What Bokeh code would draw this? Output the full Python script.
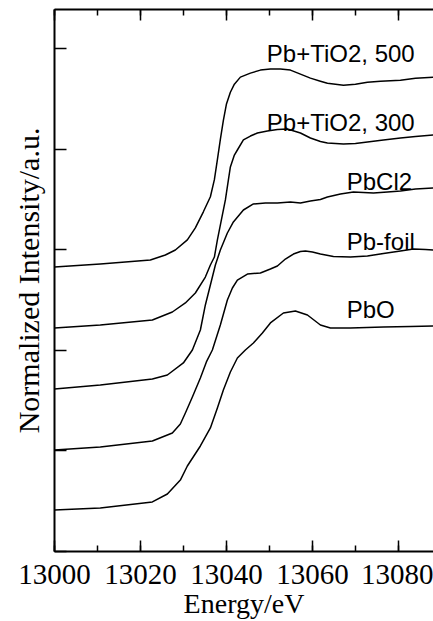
from bokeh.plotting import figure
from bokeh.models import (LinearAxis, SingleIntervalTicker, CustomJSTickFormatter,
                          Range1d, NumeralTickFormatter, ColumnDataSource)
from bokeh.embed import file_html
from bokeh.resources import INLINE
from bokeh.core.properties import value

# ---------------- data ----------------
# Pb+TiO2, 500
e_500 = [13000.00, 13010.66, 13022.30, 13025.79, 13028.12, 13030.91, 13032.77, 13034.64,
         13036.27, 13037.20, 13037.90, 13038.59, 13039.29, 13039.99, 13040.92, 13041.85,
         13043.25, 13045.58, 13047.91, 13050.23, 13052.56, 13054.89, 13057.22, 13059.54,
         13061.87, 13063.50, 13067.23, 13070.02, 13072.81, 13075.84, 13080.49, 13083.99, 13088.18]
y_500 = [2.83, 2.86, 2.90, 2.95, 3.00, 3.10, 3.22, 3.38,
         3.53, 3.70, 3.90, 4.10, 4.29, 4.45, 4.57, 4.65,
         4.72, 4.76, 4.79, 4.80, 4.80, 4.79, 4.75, 4.71,
         4.68, 4.66, 4.64, 4.65, 4.67, 4.68, 4.69, 4.71, 4.72]

# Pb+TiO2, 300
e_300 = [13000.00, 13010.66, 13022.77, 13027.42, 13030.45, 13032.77, 13035.10, 13036.27,
         13037.20, 13037.90, 13038.83, 13039.76, 13040.46, 13040.92, 13041.85, 13042.55,
         13043.95, 13045.58, 13047.21, 13049.53, 13051.86, 13054.19, 13057.22, 13059.54,
         13061.87, 13063.50, 13067.23, 13070.02, 13072.81, 13076.54, 13080.49, 13083.99, 13088.18]
y_300 = [2.224, 2.254, 2.303, 2.383, 2.473, 2.572, 2.731, 2.851,
         2.930, 3.100, 3.299, 3.498, 3.697, 3.826, 3.945, 3.995,
         4.095, 4.134, 4.164, 4.184, 4.199, 4.204, 4.164, 4.114,
         4.080, 4.065, 4.055, 4.060, 4.075, 4.095, 4.114, 4.129, 4.144]

# PbCl2
e_cl = [13000.00, 13010.66, 13022.77, 13026.26, 13029.98, 13032.08, 13033.94, 13035.10,
        13036.27, 13037.43, 13038.59, 13040.22, 13041.62, 13043.95, 13046.28, 13049.07,
        13051.86, 13054.89, 13057.22, 13059.54, 13061.87, 13063.50, 13066.53, 13069.55,
        13074.21, 13077.47, 13080.49, 13083.99, 13088.18]
y_cl = [1.617, 1.657, 1.716, 1.756, 1.876, 2.005, 2.204, 2.453,
        2.652, 2.851, 3.000, 3.169, 3.279, 3.398, 3.458, 3.468,
        3.468, 3.478, 3.468, 3.488, 3.502, 3.527, 3.557, 3.577,
        3.567, 3.577, 3.587, 3.607, 3.617]

# Pb-foil
e_foil = [13000.00, 13010.66, 13022.77, 13027.42, 13029.28, 13030.45, 13032.08, 13033.94,
          13035.34, 13036.73, 13038.59, 13040.22, 13041.39, 13042.55, 13044.88, 13047.91,
          13050.23, 13051.86, 13053.72, 13055.59, 13057.22, 13058.38, 13060.01, 13061.87,
          13064.90, 13068.85, 13072.81, 13076.54, 13080.49, 13083.52, 13086.31, 13088.18]
y_foil = [1.010, 1.040, 1.100, 1.179, 1.269, 1.378, 1.537, 1.726,
          1.886, 2.005, 2.254, 2.502, 2.622, 2.701, 2.761, 2.771,
          2.811, 2.841, 2.910, 2.960, 2.985, 2.990, 2.980, 2.960,
          2.935, 2.930, 2.940, 2.965, 2.990, 3.010, 3.005, 3.000]

# PbO
e_pbo = [13000.00, 13010.66, 13022.77, 13026.26, 13029.28, 13030.91, 13033.94, 13036.27,
         13037.90, 13039.29, 13040.92, 13042.55, 13044.41, 13046.28, 13048.37, 13050.23,
         13053.26, 13056.05, 13058.85, 13061.87, 13064.20, 13068.85, 13076.54, 13082.82, 13088.18]
y_pbo = [0.413, 0.433, 0.493, 0.572, 0.711, 0.851, 1.050, 1.229,
         1.428, 1.607, 1.786, 1.925, 2.005, 2.075, 2.174, 2.274,
         2.373, 2.393, 2.353, 2.254, 2.224, 2.224, 2.234, 2.239, 2.244]

label_text = ["Pb+TiO2, 500", "Pb+TiO2, 300", "PbCl2", "Pb-foil", "PbO"]
label_x = [13049.4, 13049.4, 13068.0, 13068.0, 13068.0]
label_y = [4.960, 4.264, 3.677, 3.083, 2.403]

SERIF = "Liberation Serif"
SANS = "Liberation Sans"

# ---------------- figure ----------------
p = figure(width=433, height=621, output_backend="svg", toolbar_location=None,
           x_range=Range1d(13000, 13088.18), y_range=Range1d(0, 5.393),
           min_border_left=54, min_border_right=0, min_border_top=9, min_border_bottom=70)
p.outline_line_color = None
p.xgrid.grid_line_color = None
p.ygrid.grid_line_color = None
p.background_fill_color = "white"
p.border_fill_color = "white"

for e, y in [(e_500, y_500), (e_300, y_300), (e_cl, y_cl), (e_foil, y_foil), (e_pbo, y_pbo)]:
    p.line(e, y, line_color="black", line_width=1.5, line_join="round")

src = ColumnDataSource(dict(x=label_x, y=label_y, t=label_text))
p.text(x="x", y="y", text="t", source=src, text_font=value(SANS),
       text_font_size=value("24px"), text_baseline="alphabetic", text_align="left",
       text_color="black")

blank = CustomJSTickFormatter(code="return ''")

# bottom axis
xa = p.xaxis[0]
xa.ticker = SingleIntervalTicker(interval=20, num_minor_ticks=2)
xa.formatter = NumeralTickFormatter(format="0")
xa.major_tick_in = 11
xa.major_tick_out = 0
xa.minor_tick_in = 6
xa.minor_tick_out = 0
xa.axis_line_width = 2
xa.major_tick_line_width = 1.5
xa.minor_tick_line_width = 1.5
xa.major_label_text_font = SERIF
xa.major_label_text_font_size = "29px"
xa.major_label_text_font_style = "normal"
xa.major_label_text_color = "black"
xa.major_label_standoff = 13
xa.axis_label = "Energy/eV"
xa.axis_label_text_font = SERIF
xa.axis_label_text_font_size = "28px"
xa.axis_label_text_font_style = "normal"
xa.axis_label_text_color = "black"
xa.axis_label_standoff = 1

# left axis
ya = p.yaxis[0]
ya.ticker = SingleIntervalTicker(interval=1, num_minor_ticks=0)
ya.formatter = blank
ya.major_label_text_font_size = "0px"
ya.major_label_standoff = 0
ya.major_tick_in = 12
ya.major_tick_out = 0
ya.minor_tick_line_color = None
ya.axis_line_width = 2
ya.major_tick_line_width = 1.5
ya.axis_label = "Normalized Intensity/a.u."
ya.axis_label_text_font = SERIF
ya.axis_label_text_font_size = "30px"
ya.axis_label_text_font_style = "normal"
ya.axis_label_text_color = "black"
ya.axis_label_standoff = 10

# top axis (ticks only)
top = LinearAxis(ticker=SingleIntervalTicker(interval=20, num_minor_ticks=2), formatter=blank)
top.major_label_text_font_size = "0px"
top.major_label_standoff = 0
top.major_tick_in = 11
top.major_tick_out = 0
top.minor_tick_in = 6
top.minor_tick_out = 0
top.axis_line_width = 2
top.major_tick_line_width = 1.5
top.minor_tick_line_width = 1.5
p.add_layout(top, "above")

open("out.html", "w").write(file_html(p, INLINE))
